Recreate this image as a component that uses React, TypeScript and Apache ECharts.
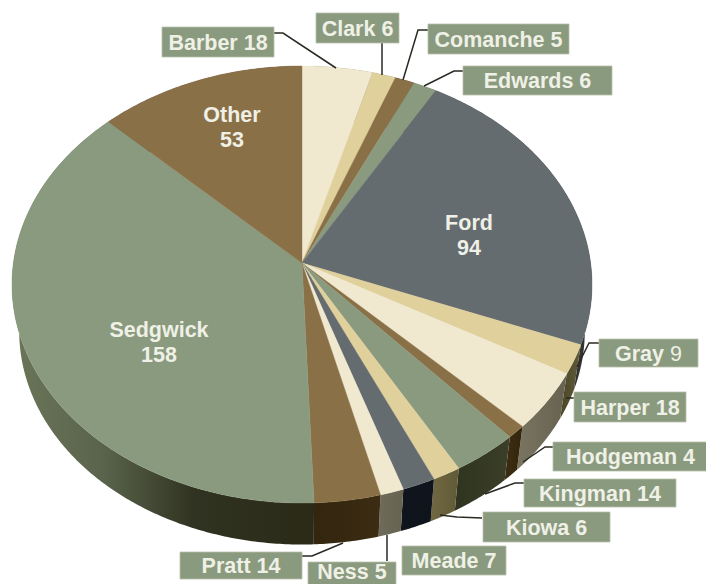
import React, { useEffect, useRef } from "react";
import * as echarts from "echarts";

const categories = ["Barber", "Clark", "Comanche", "Edwards", "Ford", "Gray", "Harper", "Hodgeman", "Kingman", "Kiowa", "Meade", "Ness", "Pratt", "Sedgwick", "Other"];
const values = [18, 6, 5, 6, 94, 9, 18, 4, 14, 6, 7, 5, 14, 158, 53];

const SAGE = "#8a9a7e";
const BROWN = "#8a7047";
const CREAM = "#f0e9cf";
const TAN = "#e0d09c";
const SLATE = "#656c70";
const topColors = [CREAM, TAN, BROWN, SAGE, SLATE, TAN, CREAM, BROWN, SAGE, TAN, SLATE, CREAM, BROWN, SAGE, BROWN];
const sideStops: [number, string][][] = [
  [[0, "#777777"], [1, "#777777"]],
  [[0, "#777777"], [1, "#777777"]],
  [[0, "#444444"], [1, "#444444"]],
  [[0, "#555555"], [1, "#555555"]],
  [[0, "#333333"], [1, "#333333"]],
  [[0, "#4a4627"], [1, "#5f5a3a"]],
  [[0, "#7a7561"], [1, "#66624f"]],
  [[0, "#3d2d12"], [1, "#33260e"]],
  [[0, "#2f3420"], [1, "#3b3f28"]],
  [[0, "#6f6841"], [1, "#615a37"]],
  [[0, "#10151d"], [1, "#0f141c"]],
  [[0, "#6f6b5b"], [1, "#66634f"]],
  [[0, "#33260f"], [1, "#3b2c12"]],
  [[0, "#6a7559"], [0.3, "#5a644c"], [0.6, "#303321"], [1, "#2a2a17"]],
  [[0, "#555555"], [1, "#555555"]],
];

// Where each outside label's box sits: [left, top, right, bottom, textY]
const boxes: Record<string, number[]> = {
  Barber: [162, 27, 274, 57, 43],
  Clark: [316, 13, 399, 43, 29],
  Comanche: [428, 24, 569, 54, 40],
  Edwards: [463, 66, 612, 95, 81],
  Gray: [599, 339, 698, 367, 354],
  Harper: [574, 392, 686, 422, 408],
  Hodgeman: [553, 442, 708, 471, 457],
  Kingman: [524, 479, 676, 507, 494],
  Kiowa: [483, 512, 610, 542, 528],
  Meade: [402, 546, 506, 575, 561],
  Ness: [308, 562, 396, 592, 572],
  Pratt: [180, 552, 302, 579, 566],
};
const leaders: Record<string, number[][]> = {
  Barber: [[274, 33], [283, 33], [336, 68]],
  Clark: [[382, 43], [382, 75]],
  Comanche: [[428, 30], [418, 30], [403, 80]],
  Edwards: [[463, 71], [454, 71], [424, 86]],
  Gray: [[599, 343], [589, 343], [577, 367]],
  Harper: [[574, 398], [566, 398]],
  Hodgeman: [[553, 447], [545, 447], [523, 462]],
  Kingman: [[524, 483], [515, 483], [485, 494]],
  Kiowa: [[482, 518], [457, 517], [440, 515]],
  Ness: [[387, 561], [387, 535]],
  Pratt: [[302, 556], [312, 556], [343, 543]],
};
const insideLabels: Record<string, number[]> = {
  Ford: [469, 223],
  Sedgwick: [159, 330],
  Other: [232, 115],
};

// Perspective view of the pie's disc
const APEX_X = 302;
const APEX_Y = 263;
const A = 288.6;
const B = 216.4;
const K = 0.0984;
const DEPTH_SCALE = 0.975;
const LOWER_APEX_Y = 310.5;

function rim(angle: number, lower: boolean): number[] {
  const u = Math.sin(angle);
  const v = Math.cos(angle);
  const d = 1 + K * v;
  const s = lower ? DEPTH_SCALE : 1;
  const y0 = lower ? LOWER_APEX_Y : APEX_Y;
  return [APEX_X + (s * A * u) / d, y0 - (s * B * v) / d];
}
function arcPoints(a0: number, a1: number, lower: boolean): number[][] {
  const n = Math.max(2, Math.ceil((a1 - a0) / 0.01));
  const pts: number[][] = [];
  for (let i = 0; i <= n; i++) pts.push(rim(a0 + ((a1 - a0) * i) / n, lower));
  return pts;
}

const total = values.reduce((a, b) => a + b, 0);
let running = 0;
const sliceData = values.map((v, i) => {
  const from = running;
  running += v;
  return [i, from, running];
});
const toAngle = (x: number) => (x / total) * Math.PI * 2;

export default function App() {
  const ref = useRef<HTMLDivElement>(null);
  useEffect(() => {
    const chart = echarts.init(ref.current!, undefined, { renderer: "svg" });
    const FAMILY = '"Liberation Sans", Arial, sans-serif';
    const FONT = `bold 21.5px ${FAMILY}`;
    const LABEL = "#eff0e6";
    const graphics: any[] = [];
    categories.forEach((c, i) => {
      const b = boxes[c];
      if (leaders[c]) {
        graphics.push({
          type: "polyline",
          z: 5,
          shape: { points: leaders[c] },
          style: { stroke: "#2a2a22", lineWidth: 1.5, fill: "none" },
        });
      }
      if (b) {
        graphics.push({
          type: "rect",
          z: 6,
          shape: { x: b[0], y: b[1], width: b[2] - b[0], height: b[3] - b[1] },
          style: { fill: "#8a9a7e", stroke: "#b7c0ab", lineWidth: 0.8 },
        });
        const lightValue = c === "Gray";
        graphics.push({
          type: "text",
          z: 7,
          x: (b[0] + b[2]) / 2,
          y: b[4],
          style: lightValue
            ? {
                text: `{n|${c} }{v|${values[i]}}`,
                rich: {
                  n: { font: FONT, fill: LABEL },
                  v: { font: `21.5px ${FAMILY}`, fill: LABEL },
                },
                align: "center",
                verticalAlign: "middle",
              }
            : { text: `${c} ${values[i]}`, font: FONT, fill: LABEL, align: "center", verticalAlign: "middle" },
        });
      }
      const p = insideLabels[c];
      if (p) {
        graphics.push({
          type: "text",
          z: 7,
          x: p[0],
          y: p[1],
          style: { text: c, font: FONT, fill: LABEL, align: "center", verticalAlign: "middle" },
        });
        graphics.push({
          type: "text",
          z: 7,
          x: p[0],
          y: p[1] + 25,
          style: { text: String(values[i]), font: FONT, fill: LABEL, align: "center", verticalAlign: "middle" },
        });
      }
    });

    chart.setOption({
      animation: false,
      backgroundColor: "#ffffff",
      graphic: { elements: graphics },
      series: [
        {
          type: "custom",
          coordinateSystem: "none",
          silent: true,
          z: 1,
          data: sliceData,
          renderItem: (_p: any, api: any) => {
            const i = api.value(0);
            const a0 = toAngle(api.value(1));
            const a1 = toAngle(api.value(2));
            const upper = arcPoints(a0, a1, false);
            const lower = arcPoints(a0, a1, true).reverse();
            const xs = upper.concat(lower).map((q) => q[0]);
            const fill = new echarts.graphic.LinearGradient(
              Math.min(...xs), 0, Math.max(...xs), 0,
              sideStops[i].map(([offset, color]) => ({ offset, color })),
              true
            );
            return {
              type: "polygon",
              shape: { points: upper.concat(lower) },
              style: { fill, stroke: null },
            };
          },
        },
        {
          type: "custom",
          coordinateSystem: "none",
          silent: true,
          z: 2,
          data: sliceData,
          renderItem: (_p: any, api: any) => {
            const i = api.value(0);
            const a0 = toAngle(api.value(1));
            const a1 = toAngle(api.value(2));
            return {
              type: "polygon",
              shape: { points: [[APEX_X, APEX_Y], ...arcPoints(a0, a1, false)] },
              style: { fill: topColors[i], stroke: topColors[i], lineWidth: 0.4 },
            };
          },
        },
      ],
    });
    return () => chart.dispose();
  }, []);
  return <div ref={ref} style={{ position: "absolute", left: 0, top: 0, width: 706, height: 584 }} />;
}
